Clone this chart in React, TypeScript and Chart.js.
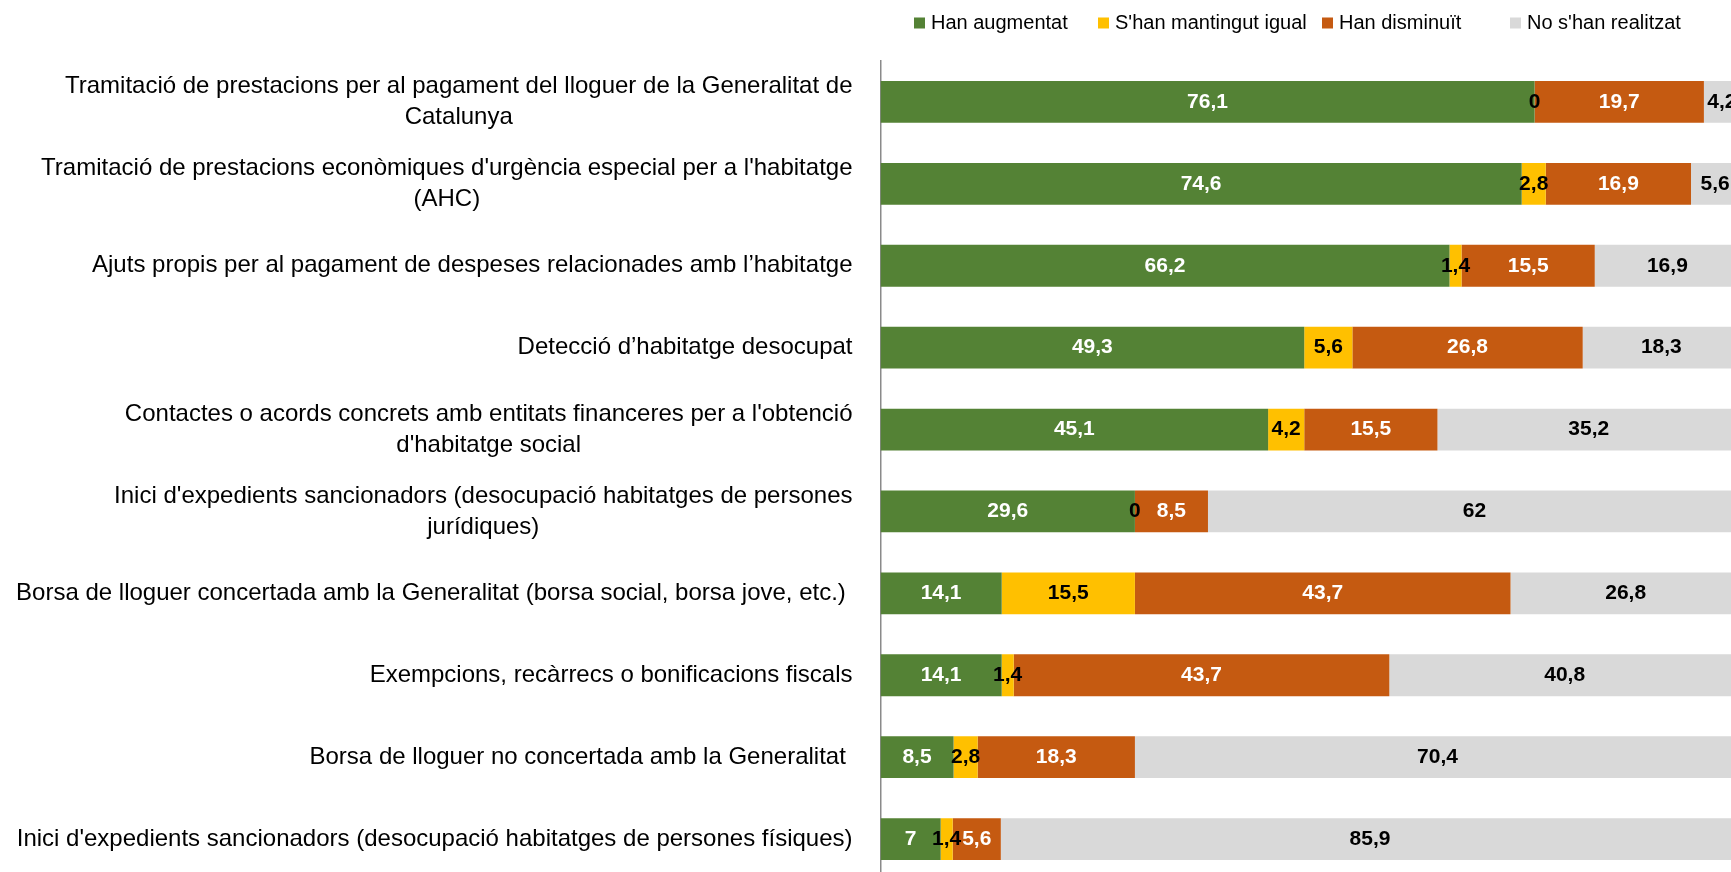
import { useEffect, useRef } from "react";
import { Chart, registerables } from "chart.js";

Chart.register(...registerables);

const categories: (string | string[])[] = [
  ["Tramitació de prestacions per al pagament del lloguer de la Generalitat de", "Catalunya"],
  ["Tramitació de prestacions econòmiques d'urgència especial per a l'habitatge", "(AHC)"],
  "Ajuts propis per al pagament de despeses relacionades amb l’habitatge",
  "Detecció d’habitatge desocupat",
  ["Contactes o acords concrets amb entitats financeres per a l'obtenció", "d'habitatge social"],
  ["Inici d'expedients sancionadors (desocupació habitatges de persones", "jurídiques)"],
  "Borsa de lloguer concertada amb la Generalitat (borsa social, borsa jove, etc.) ",
  "Exempcions, recàrrecs o bonificacions fiscals",
  "Borsa de lloguer no concertada amb la Generalitat ",
  "Inici d'expedients sancionadors (desocupació habitatges de persones físiques)",
];

const seriesNames = ["Han augmentat", "S'han mantingut igual", "Han disminuït", "No s'han realitzat"];

const hanAugmentat = [76.1, 74.6, 66.2, 49.3, 45.1, 29.6, 14.1, 14.1, 8.5, 7];
const hanMantingutIgual = [0, 2.8, 1.4, 5.6, 4.2, 0, 15.5, 1.4, 2.8, 1.4];
const hanDisminuit = [19.7, 16.9, 15.5, 26.8, 15.5, 8.5, 43.7, 43.7, 18.3, 5.6];
const noRealitzat = [4.2, 5.6, 16.9, 18.3, 35.2, 62, 26.8, 40.8, 70.4, 85.9];

const xMin = 0;
const xMax = 100;

// styles
const COLORS = ["#548235", "#FFC000", "#C55A11", "#D9D9D9"];
const LABEL_COLORS = ["#FFFFFF", "#000000", "#FFFFFF", "#000000"];
const FONT = "'Liberation Sans', Arial, sans-serif";
const Y_FONT_SIZE = 24;
const Y_LINE_HEIGHT = 31;
const VALUE_FONT_SIZE = 21;
const LEGEND_FONT_SIZE = 20;
const LEGEND_SLOT_X = [914, 1098, 1322, 1510];

const yLabelsPlugin = {
  id: "yLabelsCentered",
  afterDraw(chart: any) {
    const ctx = chart.ctx;
    const yScale = chart.scales.y;
    ctx.save();
    ctx.font = `${Y_FONT_SIZE}px ${FONT}`;
    ctx.fillStyle = "#000000";
    ctx.textAlign = "center";
    ctx.textBaseline = "middle";
    const right = chart.chartArea.left - 28;
    (chart.data.labels as any[]).forEach((lab, i) => {
      const lines: string[] = Array.isArray(lab) ? lab : [lab];
      const w = Math.max(...lines.map((l) => ctx.measureText(l).width));
      const cx = right - w / 2;
      const cy = yScale.getPixelForTick(i);
      lines.forEach((l, j) => {
        ctx.fillText(l, cx, cy + (j - (lines.length - 1) / 2) * Y_LINE_HEIGHT);
      });
    });
    ctx.restore();
  },
};

const valueLabelsPlugin = {
  id: "valueLabels",
  afterDatasetsDraw(chart: any) {
    const ctx = chart.ctx;
    ctx.save();
    ctx.font = `bold ${VALUE_FONT_SIZE}px ${FONT}`;
    ctx.textAlign = "center";
    ctx.textBaseline = "middle";
    chart.data.datasets.forEach((ds: any, di: number) => {
      const meta = chart.getDatasetMeta(di);
      ctx.fillStyle = LABEL_COLORS[di];
      meta.data.forEach((el: any, i: number) => {
        const v = ds.data[i];
        if (v === null || v === undefined) return;
        const { x, base, y } = el.getProps(["x", "base", "y"], true);
        ctx.fillText(String(v).replace(".", ","), (x + base) / 2, y);
      });
    });
    ctx.restore();
  },
};

const legendPlugin = {
  id: "customLegend",
  afterDraw(chart: any) {
    const ctx = chart.ctx;
    ctx.save();
    ctx.font = `${LEGEND_FONT_SIZE}px ${FONT}`;
    ctx.textAlign = "left";
    ctx.textBaseline = "middle";
    const cy = 23;
    const box = 11;
    chart.data.datasets.forEach((ds: any, i: number) => {
      const x = LEGEND_SLOT_X[i];
      ctx.fillStyle = ds.backgroundColor;
      ctx.fillRect(x, cy - box / 2, box, box);
      ctx.fillStyle = "#000000";
      ctx.fillText(ds.label, x + box + 6, cy);
    });
    ctx.restore();
  },
};

export default function App() {
  const ref = useRef<HTMLCanvasElement | null>(null);

  useEffect(() => {
    if (!ref.current) return;
    const series = [hanAugmentat, hanMantingutIgual, hanDisminuit, noRealitzat];
    const chart = new Chart(ref.current, {
      type: "bar",
      data: {
        labels: categories as any,
        datasets: seriesNames.map((name, i) => ({
          label: name,
          data: series[i],
          backgroundColor: COLORS[i],
          borderWidth: 0,
          barPercentage: 0.51,
          categoryPercentage: 1,
        })),
      },
      options: {
        indexAxis: "y",
        responsive: false,
        animation: false,
        devicePixelRatio: 1,
        layout: { padding: { top: 61, bottom: 20, left: 0, right: 20 } },
        plugins: {
          legend: { display: false },
          tooltip: { enabled: false },
        },
        scales: {
          x: { stacked: true, min: xMin, max: xMax, display: false },
          y: {
            stacked: true,
            grid: { display: false },
            ticks: { display: false },
            border: { display: true, color: "#8a8a8a", width: 1.5 },
            afterFit: (s: any) => {
              s.width = 880.5;
            },
          },
        },
      },
      plugins: [valueLabelsPlugin, yLabelsPlugin, legendPlugin],
    });
    return () => chart.destroy();
  }, []);

  return (
    <div style={{ position: "fixed", left: 0, top: 0, width: 1760, height: 900, background: "#fff" }}>
      <canvas ref={ref} width={1760} height={900} style={{ display: "block" }} />
    </div>
  );
}
